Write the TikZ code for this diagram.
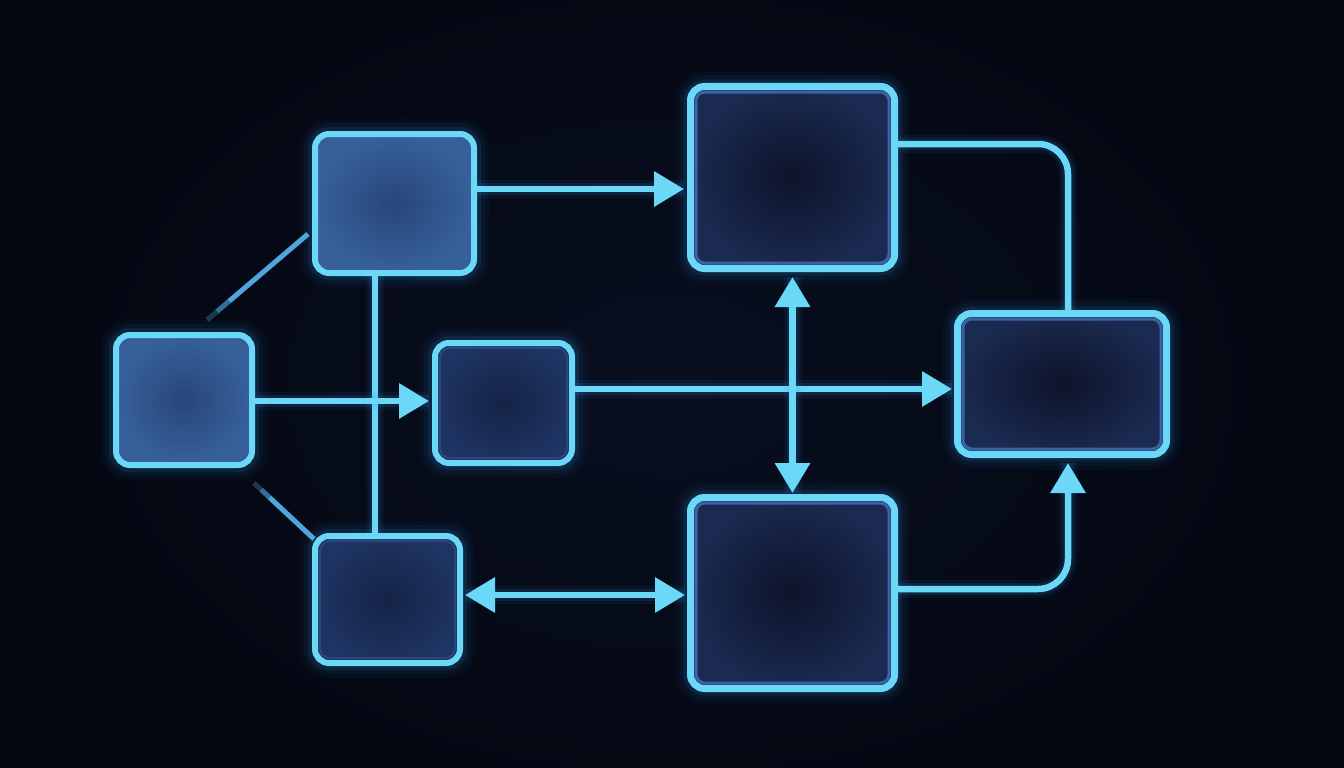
\documentclass[tikz,border=0pt]{standalone}
\usetikzlibrary{arrows.meta,calc}
\definecolor{bgout}{RGB}{3,6,15}
\definecolor{bgin}{RGB}{9,15,32}
\definecolor{cyanl}{RGB}{106,216,246}
\definecolor{glowc}{RGB}{40,150,230}
\definecolor{diagc}{RGB}{80,165,220}
\definecolor{abin}{RGB}{40,70,122}
\definecolor{about}{RGB}{55,96,155}
\definecolor{cdin}{RGB}{21,35,70}
\definecolor{cdout}{RGB}{30,52,98}
\definecolor{efin}{RGB}{13,19,42}
\definecolor{efout}{RGB}{27,42,80}
\definecolor{innerc}{RGB}{58,98,165}
\definecolor{innercd}{RGB}{42,70,125}
\begin{document}
\begin{tikzpicture}[x=1pt,y=-1pt,
  box/.style={rounded corners=14pt, draw=cyanl, line width=6pt, inner sep=0pt, outer sep=3pt,
    preaction={draw=glowc, line width=30pt, opacity=0.04},
    preaction={draw=glowc, line width=22pt, opacity=0.06},
    preaction={draw=glowc, line width=14pt, opacity=0.12}},
  lightbox/.style={box, inner color=abin, outer color=about},
  midbox/.style={box, inner color=cdin, outer color=cdout},
  darkbox/.style={box, inner color=efin, outer color=efout, line width=7pt, outer sep=3.5pt},
  innerb/.style={draw=innerc, line width=3pt, rounded corners=9pt},
  innerbcd/.style={draw=innercd, line width=2pt, rounded corners=10pt},
  conn/.style={draw=cyanl, line width=6.5pt,
    preaction={draw=glowc, line width=18pt, opacity=0.07, -},
    preaction={draw=glowc, line width=12pt, opacity=0.12, -}},
  tip/.style={-{Triangle[length=30pt,width=34pt]}},
  dtip/.style={{Triangle[length=30pt,width=34pt]}-{Triangle[length=30pt,width=34pt]}},
  diag/.style={draw=diagc, line width=5pt, line cap=butt}
]
\useasboundingbox (0,0) rectangle (1344,768);
\shade[inner color=bgin, outer color=bgout] (-100,-150) rectangle (1444,918);

% nodes
\node[lightbox, minimum width=136pt, minimum height=130pt] (A) at (184,400) {};
\node[lightbox, minimum width=159pt, minimum height=139pt] (B) at (394.5,203.5) {};
\node[midbox, minimum width=137pt, minimum height=120pt] (C) at (503.5,403) {};
\node[midbox, minimum width=145pt, minimum height=127pt] (D) at (387.5,599.5) {};
\node[darkbox, minimum width=204pt, minimum height=182pt] (E) at (792.5,177.5) {};
\node[darkbox, minimum width=209pt, minimum height=141pt] (F) at (1062,384) {};
\node[darkbox, minimum width=204pt, minimum height=191pt] (G) at (792.5,593) {};

\foreach \n in {E,F,G}
  \draw[innerb] ([shift={(9,9)}]\n.north west) rectangle ([shift={(-9,-9)}]\n.south east);
\foreach \n in {C,D}
  \draw[innerbcd] ([shift={(8,8)}]\n.north west) rectangle ([shift={(-8,-8)}]\n.south east);

% helper coordinates
\coordinate (vx) at (375,0);
\coordinate (rx) at (1068,0);
\coordinate (yAC) at (0,401);
\coordinate (yBE) at (0,189);
\coordinate (yCF) at (0,389);
\coordinate (yDG) at (0,595);
\coordinate (yEF) at (0,144);
\coordinate (yGF) at (0,589);

% diagonal fragments
\coordinate (u1) at (207,320);
\coordinate (u2) at (308,234);
\coordinate (l1) at (254,483);
\coordinate (l2) at (314,539);
\draw[diag, draw opacity=0.3] (u1) -- ($(u1)!0.1!(u2)$);
\draw[diag, draw opacity=0.65] ($(u1)!0.1!(u2)$) -- ($(u1)!0.22!(u2)$);
\draw[diag] ($(u1)!0.22!(u2)$) -- (u2);
\draw[diag, draw opacity=0.3] (l1) -- ($(l1)!0.12!(l2)$);
\draw[diag, draw opacity=0.65] ($(l1)!0.12!(l2)$) -- ($(l1)!0.26!(l2)$);
\draw[diag] ($(l1)!0.26!(l2)$) -- (l2);

% connectors
\draw[conn] (B.south -| vx) -- (D.north -| vx);
\draw[conn, tip] (A.east |- yAC) -- ([xshift=-3pt]C.west |- yAC);
\draw[conn, tip] (B.east |- yBE) -- ([xshift=-3pt]E.west |- yBE);
\draw[conn, tip] (C.east |- yCF) -- ([xshift=-2pt]F.west |- yCF);
\draw[conn, dtip] ([yshift=-5pt]E.south) -- ([yshift=1pt]G.north);
\draw[conn, dtip] ([xshift=2pt]D.east |- yDG) -- ([xshift=-2pt]G.west |- yDG);
\draw[conn, rounded corners=30pt] (E.east |- yEF) -| (F.north -| rx);
\draw[conn, tip, rounded corners=30pt] (G.east |- yGF) -| ([yshift=-5pt]F.south -| rx);
\end{tikzpicture}
\end{document}
